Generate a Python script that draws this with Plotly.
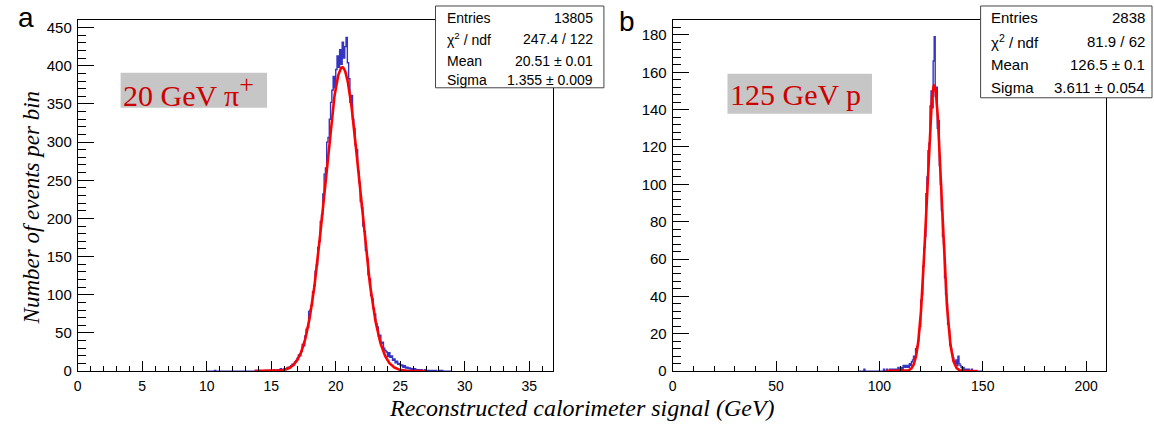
import numpy as np
import plotly.graph_objects as go

W, H = 1154, 425
HE = 417  # effective rendered height observed for the page

# ---------------- data ----------------
# Panel a: 20 GeV pi+, bins of 0.1 GeV starting at 10.0 GeV
left_bin_start = 10.0
left_bin_width = 0.1
left_counts = (
    [0, 0, 0, 0, 0, 0, 1, 0, 0, 0] +            # 10
    [0, 0, 0, 0, 0, 0, 0, 0, 0, 0] +            # 11
    [0, 0, 0, 0, 0, 0, 0, 0, 0, 0] +            # 12
    [0, 0, 0, 0, 0, 0, 0, 0, 1, 0] +            # 13
    [0, 1, 0, 0, 1, 0, 1, 0, 1, 1] +            # 14
    [0, 1, 2, 1, 0, 2, 1, 3, 2, 2] +            # 15
    [3, 2, 4, 5, 4, 7, 9, 8, 12, 14] +          # 16
    [17, 21, 20, 26, 35, 33, 46, 55, 57, 78] +  # 17
    [80, 86, 104, 112, 131, 139, 162, 170, 196, 205] +   # 18
    [232, 258, 266, 300, 306, 330, 352, 368, 386, 371] +  # 19
    [395, 413, 398, 421, 402, 431, 410, 425, 437, 404] +  # 20
    [383, 352, 361, 330, 318, 296, 290, 262, 247, 222] +  # 21
    [214, 190, 183, 158, 148, 126, 121, 99, 95, 82] +     # 22
    [75, 62, 58, 46, 47, 36, 38, 30, 27, 25] +  # 23
    [19, 24, 18, 20, 14, 16, 11, 13, 9, 10] +   # 24
    [7, 8, 5, 7, 4, 5, 3, 4, 2, 3] +            # 25
    [2, 3, 1, 2, 2, 1, 2, 1, 1, 2] +            # 26
    [1, 0, 1, 1, 0, 1, 0, 1, 0, 0] +            # 27
    [1, 0, 1, 0, 0, 0, 0, 0, 0, 0]              # 28
)
left_fit_const = 398.0
left_fit_mean = 20.51
left_fit_sigma = 1.355
left_fit_range = [13.7, 26.9]
left_stats_labels = ["Entries", "χ<sup>2</sup> / ndf", "Mean", "Sigma"]
left_stats_values = ["13805", "247.4 / 122", "20.51 ± 0.01", "1.355 ± 0.009"]

# Panel b: 125 GeV p, bins of 0.5 GeV starting at 90.0 GeV
right_bin_start = 90.0
right_bin_width = 0.5
right_counts = (
    [0, 0, 0, 0, 0, 1, 0, 0, 0, 0] +                     # 90
    [0, 0, 0, 0, 0, 0, 0, 0, 0, 0] +                     # 95
    [0, 0, 0, 0, 1, 0, 0, 1, 0, 0] +                     # 100
    [1, 0, 1, 1, 0, 1, 1, 0, 2, 1] +                     # 105
    [1, 2, 1, 3, 2, 3, 2, 3, 2, 4] +                     # 110
    [3, 5, 6, 8, 7, 12, 13, 16, 22, 24] +                # 115
    [38, 41, 56, 66, 72, 95, 104, 118, 122, 142] +       # 120
    [150, 141, 166, 179, 147, 152, 130, 134, 110, 100] + # 125
    [86, 72, 68, 50, 41, 36, 25, 22, 14, 12] +           # 130
    [9, 7, 5, 4, 6, 3, 8, 4, 3, 2] +                     # 135
    [1, 2, 1, 0, 1, 0, 1, 0, 0, 1] +                     # 140
    [0, 0, 0, 0, 0, 0, 0, 0, 0, 0]                       # 145
)
right_fit_const = 153.0
right_fit_mean = 126.5
right_fit_sigma = 3.611
right_fit_range = [103.0, 147.5]
right_stats_labels = ["Entries", "χ<sup>2</sup> / ndf", "Mean", "Sigma"]
right_stats_values = ["2838", "81.9 / 62", "126.5 ± 0.1", "3.611 ± 0.054"]

panel_letters = ["a", "b"]
beam_labels = ["20 GeV π<sup><span style='font-size:26px'>+</span></sup>", "125 GeV p"]
x_title = "Reconstructed calorimeter signal (GeV)"
y_title = "Number of events per bin"

# ---------------- helpers ----------------
def px(x):
    return x / W

def py(y):
    return 1 - y / HE

def step_xy(start, width, counts):
    n = len(counts)
    edges = start + width * np.arange(n + 1)
    ys = list(counts) + [counts[-1]]
    return edges, ys

def gauss(c, m, s, lo, hi):
    xs = np.linspace(lo, hi, 400)
    return xs, c * np.exp(-0.5 * ((xs - m) / s) ** 2)

BLUE = "#3535c4"
RED = "#ff0000"
SANS = "Liberation Sans, Arial, sans-serif"
SERIF = "Liberation Serif, Times New Roman, serif"

fig = go.Figure()

lx, ly = step_xy(left_bin_start, left_bin_width, left_counts)
fig.add_trace(go.Scatter(x=lx, y=ly, mode="lines", line=dict(color=BLUE, width=1.4, shape="hv"),
                         xaxis="x", yaxis="y", showlegend=False, hoverinfo="skip"))
gx, gy = gauss(left_fit_const, left_fit_mean, left_fit_sigma, *left_fit_range)
fig.add_trace(go.Scatter(x=gx, y=gy, mode="lines", line=dict(color=RED, width=2.6),
                         xaxis="x", yaxis="y", showlegend=False, hoverinfo="skip"))

rx, ry = step_xy(right_bin_start, right_bin_width, right_counts)
fig.add_trace(go.Scatter(x=rx, y=ry, mode="lines", line=dict(color=BLUE, width=1.4, shape="hv"),
                         xaxis="x2", yaxis="y2", showlegend=False, hoverinfo="skip"))
gx, gy = gauss(right_fit_const, right_fit_mean, right_fit_sigma, *right_fit_range)
fig.add_trace(go.Scatter(x=gx, y=gy, mode="lines", line=dict(color=RED, width=2.6),
                         xaxis="x2", yaxis="y2", showlegend=False, hoverinfo="skip"))

def xax(domain, rng, dtick, mdtick, anchor):
    return dict(domain=domain, range=rng, anchor=anchor, dtick=dtick, tick0=0,
                ticks="inside", ticklen=10, tickwidth=1, tickcolor="black",
                minor=dict(dtick=mdtick, tick0=0, ticks="inside", ticklen=5, tickwidth=1, tickcolor="black"),
                showline=True, linecolor="black", linewidth=1, mirror=True,
                showgrid=False, zeroline=False, tickfont=dict(family=SANS, size=14, color="black"),
                layer="above traces", ticklabelstandoff=2)

def yax(domain, rng, dtick, mdtick, anchor):
    return dict(domain=domain, range=rng, anchor=anchor, dtick=dtick, tick0=0,
                ticks="inside", ticklen=16, tickwidth=1, tickcolor="black",
                minor=dict(dtick=mdtick, tick0=0, ticks="inside", ticklen=8, tickwidth=1, tickcolor="black"),
                showline=True, linecolor="black", linewidth=1, mirror=True,
                showgrid=False, zeroline=False, tickfont=dict(family=SANS, size=15, color="black"),
                layer="above traces", ticklabelstandoff=2)

ydom = [py(371), py(19)]
fig.update_layout(
    width=W, height=H, autosize=False,
    margin=dict(l=0, r=0, t=0, b=0),
    paper_bgcolor="white", plot_bgcolor="white",
    xaxis=xax([px(74), px(551)], [0, 36.85], 5, 1, "y"),
    yaxis=yax(ydom, [0, 460], 50, 10, "x"),
    xaxis2=xax([px(671), px(1106)], [0, 209.7], 50, 10, "y2"),
    yaxis2=yax(ydom, [0, 188], 20, 4, "x2"),
)

shapes = []
annotations = []

for (x0, y0, x1, y1), txt, cx in [((117, 72, 264, 107), beam_labels[0], 117),
                                  ((726, 73, 871, 113), beam_labels[1], 727)]:
    shapes.append(dict(type="rect", xref="paper", yref="paper", x0=px(x0), x1=px(x1),
                       y0=py(y1), y1=py(y0), fillcolor="#c6c6c6", line=dict(width=0), layer="above"))
    annotations.append(dict(xref="paper", yref="paper", x=px(cx), y=py((y0 + y1) / 2 + 1),
                            xanchor="left", yanchor="middle", showarrow=False, text=txt,
                            font=dict(family=SERIF, size=30, color="#cc0000")))

stats = [((433, 5, 602, 87), left_stats_labels, left_stats_values, [17, 38.5, 60.5, 79.5], 443, 593, 14),
         ((980, 5, 1152, 97), right_stats_labels, right_stats_values, [17, 40.5, 64, 86.5], 988, 1147, 15)]
for (x0, y0, x1, y1), labs, vals, rows, lx0, rx1, fs in stats:
    shapes.append(dict(type="rect", xref="paper", yref="paper", x0=px(x0), x1=px(x1),
                       y0=py(y1), y1=py(y0), fillcolor="white", line=dict(color="#444444", width=1),
                       layer="above"))
    for lab, val, ry_ in zip(labs, vals, rows):
        annotations.append(dict(xref="paper", yref="paper", x=px(lx0), y=py(ry_), xanchor="left",
                                yanchor="middle", showarrow=False, text=lab,
                                font=dict(family=SANS, size=fs, color="black")))
        annotations.append(dict(xref="paper", yref="paper", x=px(rx1), y=py(ry_), xanchor="right",
                                yanchor="middle", showarrow=False, text=val,
                                font=dict(family=SANS, size=fs, color="black")))

annotations.append(dict(xref="paper", yref="paper", x=px(22), y=py(17), xanchor="center", yanchor="middle",
                        showarrow=False, text=panel_letters[0], font=dict(family=SANS, size=28, color="black")))
annotations.append(dict(xref="paper", yref="paper", x=px(625), y=py(21), xanchor="center", yanchor="middle",
                        showarrow=False, text=panel_letters[1], font=dict(family=SANS, size=28, color="black")))

annotations.append(dict(xref="paper", yref="paper", x=px(28), y=py(207), xanchor="center", yanchor="middle",
                        showarrow=False, text="<i>" + y_title + "</i>", textangle=-90,
                        font=dict(family=SERIF, size=23, color="black")))
annotations.append(dict(xref="paper", yref="paper", x=px(580), y=py(408), xanchor="center", yanchor="middle",
                        showarrow=False, text="<i>" + x_title + "</i>",
                        font=dict(family=SERIF, size=24, color="black")))

fig.update_layout(shapes=shapes, annotations=annotations)
fig.write_html("out.html", config={"responsive": False})
